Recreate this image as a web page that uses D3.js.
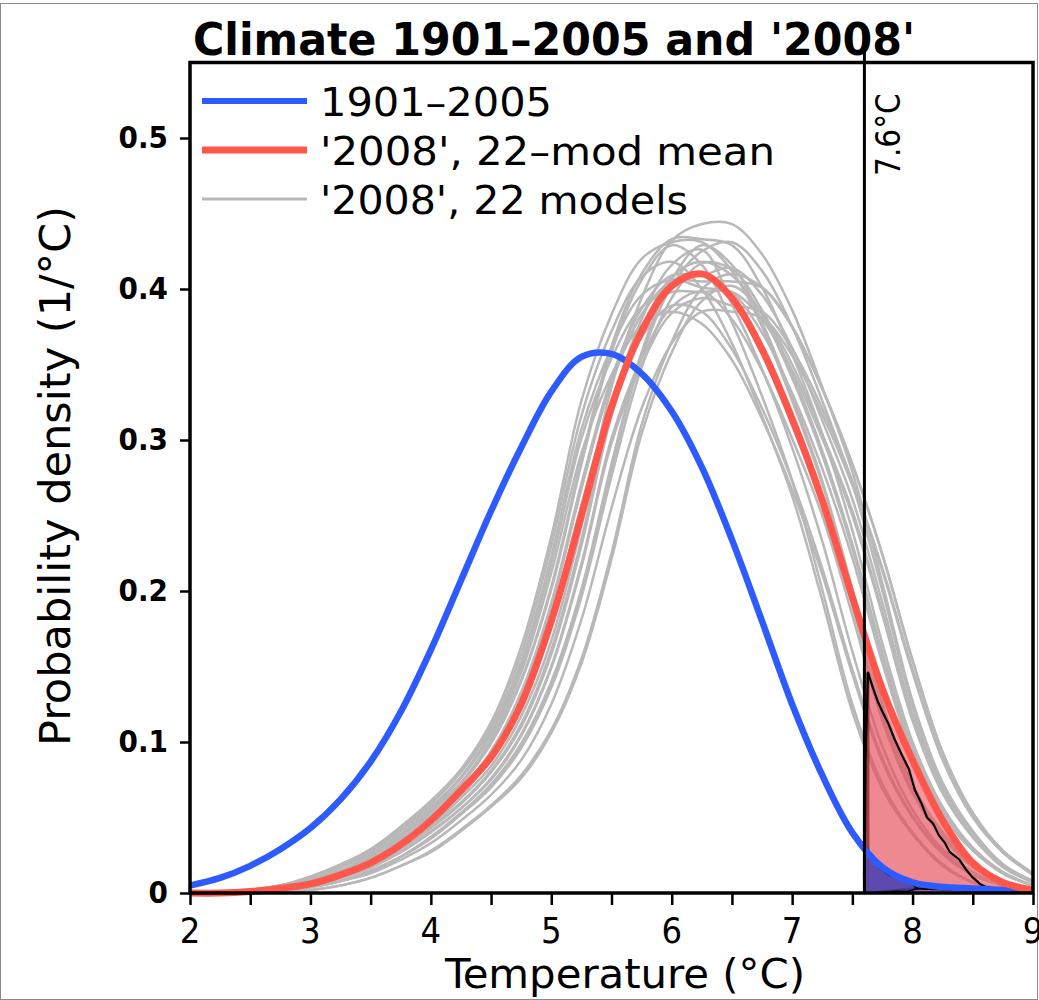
<!DOCTYPE html>
<html><head><meta charset="utf-8">
<script src="https://cdn.jsdelivr.net/npm/d3@7"></script>
<style>
body{margin:0;background:#fff}
svg{display:block}
text{font-family:'DejaVu Sans Condensed','DejaVu Sans',sans-serif;fill:#000}
</style>
</head><body>
<svg id="chart" width="1039" height="1000"></svg>
<script>
// ---------- DATA ----------
const temps = [2.0,2.25,2.5,2.75,3.0,3.25,3.5,3.75,4.0,4.25,4.5,4.75,5.0,5.25,5.5,5.75,6.0,6.25,6.5,6.75,7.0,7.25,7.5,7.75,8.0,8.25,8.5,8.75,9.0];
const obs19012005 = [0.005,0.010,0.018,0.029,0.043,0.062,0.087,0.120,0.161,0.207,0.253,0.295,0.332,0.355,0.357,0.344,0.319,0.282,0.234,0.180,0.125,0.078,0.040,0.017,0.007,0.004,0.003,0.002,0.002];
const mean2008 = [0.000,0.000,0.001,0.003,0.006,0.012,0.020,0.032,0.048,0.068,0.090,0.125,0.180,0.250,0.322,0.372,0.402,0.410,0.394,0.360,0.314,0.260,0.196,0.135,0.088,0.048,0.020,0.007,0.002];

const modelTemps = [2.5,2.75,3.0,3.25,3.5,3.75,4.0,4.25,4.5,4.75,5.0,5.25,5.5,5.75,6.0,6.25,6.5,6.75,7.0,7.25,7.5,7.75,8.0,8.25,8.5,8.75,9.0];
const model01 = [.002,.005,.010,.018,.029,.043,.059,.080,.110,.158,.230,.316,.372,.408,.418,.400,.364,.316,.263,.194,.120,.069,.039,.018,.007,.003,.001];
const model02 = [.002,.005,.011,.019,.029,.044,.061,.082,.113,.163,.236,.326,.383,.420,.431,.431,.412,.375,.326,.271,.200,.124,.071,.040,.019,.007,.003];
const model03 = [.002,.004,.009,.015,.025,.037,.054,.073,.100,.141,.203,.287,.362,.410,.433,.433,.429,.401,.357,.304,.240,.165,.100,.057,.030,.014,.005];
const model04 = [.001,.002,.005,.011,.019,.030,.045,.063,.084,.117,.167,.243,.335,.394,.432,.443,.443,.423,.386,.335,.279,.205,.127,.073,.041,.019,.008];
const model05 = [.001,.002,.004,.008,.015,.024,.037,.053,.071,.098,.139,.200,.281,.355,.402,.425,.431,.412,.375,.326,.271,.200,.124,.071,.040,.019,.007];
const model06 = [.002,.004,.008,.013,.022,.034,.048,.065,.089,.127,.182,.257,.324,.368,.389,.385,.360,.321,.273,.215,.148,.089,.051,.027,.012,.005,.002];
const model07 = [.001,.002,.005,.010,.017,.027,.041,.056,.076,.105,.150,.218,.301,.354,.388,.398,.380,.346,.301,.250,.184,.114,.066,.037,.017,.007,.003];
const model08 = [.001,.002,.004,.008,.013,.022,.033,.048,.065,.088,.125,.181,.255,.321,.364,.385,.385,.381,.356,.317,.270,.213,.146,.088,.050,.027,.012];
const model09 = [.002,.005,.009,.017,.026,.039,.055,.073,.102,.146,.212,.291,.343,.376,.385,.377,.353,.314,.267,.211,.145,.087,.050,.026,.012,.005,.002];
const model10 = [.001,.002,.005,.010,.018,.029,.043,.059,.080,.110,.158,.230,.316,.372,.408,.418,.409,.383,.341,.290,.228,.157,.095,.054,.029,.013,.005];
const model11 = [.002,.004,.008,.014,.023,.035,.050,.068,.093,.132,.190,.268,.338,.383,.405,.410,.392,.357,.310,.258,.190,.118,.068,.038,.018,.007,.003];
const model12 = [.001,.002,.004,.008,.014,.024,.036,.052,.070,.096,.136,.196,.276,.348,.394,.417,.413,.386,.344,.293,.231,.159,.096,.055,.029,.013,.005];
const model13 = [.000,.001,.002,.005,.010,.018,.027,.041,.057,.076,.106,.152,.221,.304,.358,.392,.402,.384,.350,.304,.253,.186,.116,.067,.037,.018,.007];
const model14 = [.002,.004,.008,.014,.023,.035,.051,.069,.094,.133,.192,.271,.341,.387,.409,.409,.414,.396,.361,.313,.261,.192,.119,.069,.038,.018,.007];
const model15 = [.002,.005,.010,.018,.028,.042,.057,.077,.107,.153,.223,.307,.361,.396,.406,.401,.397,.371,.331,.281,.222,.152,.092,.052,.028,.013,.005];
const model16 = [.001,.002,.005,.010,.017,.027,.040,.056,.075,.104,.149,.216,.298,.350,.384,.394,.389,.385,.360,.321,.273,.215,.148,.089,.051,.027,.012];
const model17 = [.002,.004,.008,.014,.023,.035,.050,.068,.093,.132,.190,.268,.338,.383,.405,.405,.405,.401,.375,.334,.284,.224,.154,.093,.053,.028,.013];
const model18 = [.002,.005,.010,.017,.027,.041,.056,.076,.105,.150,.218,.301,.354,.388,.398,.398,.398,.380,.346,.301,.250,.184,.114,.066,.037,.017,.007];
const model19 = [.001,.002,.005,.010,.019,.029,.044,.060,.081,.112,.161,.234,.322,.380,.416,.426,.390,.347,.295,.233,.160,.097,.055,.029,.014,.005,.002];
const model20 = [.000,.001,.002,.005,.010,.018,.028,.042,.058,.078,.108,.155,.225,.310,.365,.400,.410,.401,.375,.334,.284,.224,.154,.093,.053,.028,.013];
const model21 = [.001,.002,.004,.008,.015,.024,.037,.053,.072,.099,.140,.201,.284,.358,.406,.429,.416,.378,.329,.273,.201,.125,.072,.040,.019,.007,.003];
const model22 = [.002,.004,.008,.015,.024,.037,.053,.072,.099,.140,.201,.284,.358,.406,.429,.416,.378,.329,.273,.201,.125,.072,.040,.019,.007,.003,.001];
const models = [model01,model02,model03,model04,model05,model06,model07,model08,model09,model10,model11,model12,model13,model14,model15,model16,model17,model18,model19,model20,model21,model22];

// tail-probability shapes beyond the threshold
const threshold = 7.6;
const redTailT = [7.6,7.61,7.63,7.67,7.71,7.75,7.80,7.85,7.92,7.97,8.02,8.07,8.12,8.17,8.22,8.27,8.31,8.36,8.39,8.44,8.49,8.56,8.63,8.70,8.77,8.4,8.0,7.6];
const redTailV = [0.0,0.09,0.146,0.136,0.127,0.120,0.112,0.102,0.090,0.082,0.068,0.060,0.050,0.046,0.038,0.033,0.027,0.024,0.022,0.016,0.011,0.006,0.003,0.001,0.0,0.002,0.003,0.0];
const blueTailT = [7.6,7.595,7.60,7.62,7.66,7.72,7.80,7.88,7.95,8.01,8.04,7.96,7.85,7.7,7.62];
const blueTailV = [0.0,0.012,0.027,0.030,0.024,0.017,0.012,0.010,0.008,0.005,0.003,0.001,0.001,0.0,0.0];

const xTicks = [2,2.5,3,3.5,4,4.5,5,5.5,6,6.5,7,7.5,8,8.5,9];
const xLabels = [2,3,4,5,6,7,8,9];
const yTicks = [0,0.1,0.2,0.3,0.4,0.5];
const legendLabels = ["1901\u20132005","'2008', 22\u2013mod mean","'2008', 22 models"];
const titleText = "Climate 1901\u20132005 and '2008'";

// ---------- DRAW ----------
const svg = d3.select("#chart");
const x = d3.scaleLinear().domain([2,9]).range([190,1033]);
const y = d3.scaleLinear().domain([0,0.55]).range([893,62.5]);

svg.append("rect").attr("x",0.5).attr("y",3.5).attr("width",1037).attr("height",996)
  .attr("fill","none").attr("stroke","#8a8a8a").attr("stroke-width",1);

const defs = svg.append("defs");
defs.append("clipPath").attr("id","plot").append("rect")
  .attr("x",x(2)).attr("y",y(0.55)).attr("width",x(9)-x(2)).attr("height",y(0)-y(0.55)+4);
defs.append("clipPath").attr("id","tail").append("rect")
  .attr("x",x(threshold)).attr("y",y(0.55)).attr("width",x(9)-x(threshold)).attr("height",y(0)-y(0.55));

const g = svg.append("g").attr("clip-path","url(#plot)");

const smooth = d3.curveCatmullRom.alpha(0.5);
const lineOf = (ts) => d3.line().x((d,i)=>x(ts[i])).y(d=>y(Math.max(0,d))).curve(smooth);
const areaOf = (ts) => d3.area().x((d,i)=>x(ts[i])).y0(y(0)).y1(d=>y(d)).curve(smooth);

// model curves
g.append("g").selectAll("path").data(models).join("path")
  .attr("d", d => lineOf(modelTemps)(d))
  .attr("fill","none").attr("stroke","#b8b8b8").attr("stroke-width",2.5);

// tail fills
const tg = g.append("g").attr("clip-path","url(#tail)");
tg.append("path").attr("d", areaOf(temps)(mean2008)).attr("fill","#f0505c").attr("fill-opacity",0.6);
tg.append("path").attr("d", areaOf(temps)(obs19012005)).attr("fill","#3a2cc8").attr("fill-opacity",0.5);

// dark rug strip along threshold
g.append("line").attr("x1",x(threshold)+3).attr("x2",x(threshold)+3).attr("y1",y(0)).attr("y2",y(0.146))
  .attr("stroke","#7a1515").attr("stroke-width",4).attr("stroke-opacity",0.7);

const poly = (ts,vs) => d3.line().x((d,i)=>x(ts[i])).y(d=>y(d))(vs) + "Z";
g.append("path").attr("d", poly(redTailT, redTailV))
  .attr("fill","#c03040").attr("fill-opacity",0.12).attr("stroke","#000").attr("stroke-width",2.2).attr("stroke-linejoin","round");
g.append("path").attr("d", poly(blueTailT, blueTailV))
  .attr("fill","#5448b0").attr("fill-opacity",0.85).attr("stroke","#000").attr("stroke-width",1.8).attr("stroke-linejoin","round");

// main curves
g.append("path").attr("d", lineOf(temps)(obs19012005)).attr("fill","none").attr("stroke","#2d5bff").attr("stroke-width",6.5);
g.append("path").attr("d", lineOf(temps)(mean2008)).attr("fill","none").attr("stroke","#ff564c").attr("stroke-width",7);

// threshold line
svg.append("line").attr("x1",x(threshold)).attr("x2",x(threshold)).attr("y1",44).attr("y2",y(0))
  .attr("stroke","#000").attr("stroke-width",3);
svg.append("text").attr("transform",`translate(${x(threshold)+36},176) rotate(-90)`)
  .attr("font-size",33).text("7.6\u00B0C");

// frame
svg.append("rect").attr("x",x(2)).attr("y",y(0.55)).attr("width",x(9)-x(2)).attr("height",y(0)-y(0.55))
  .attr("fill","none").attr("stroke","#000").attr("stroke-width",3.5);

// axes
const xAxis = d3.axisBottom(x).tickValues(xTicks).tickSize(12).tickFormat("");
const xg = svg.append("g").attr("transform",`translate(0,${y(0)})`).call(xAxis);
xg.select(".domain").remove();
xg.selectAll(".tick text").remove();
xg.selectAll(".tick line").attr("stroke","#000").attr("stroke-width",2.5);
svg.append("g").selectAll("text").data(xLabels).join("text")
  .attr("x", d => x(d)).attr("y", 943).attr("text-anchor","middle")
  .attr("font-size",36).text(d => String(d));

const yAxis = d3.axisLeft(y).tickValues(yTicks).tickSize(10).tickPadding(12)
  .tickFormat(d => d === 0 ? "0" : d.toFixed(1));
const yg = svg.append("g").attr("transform",`translate(${x(2)},0)`).call(yAxis);
yg.select(".domain").remove();
yg.selectAll(".tick line").attr("stroke","#000").attr("stroke-width",2.5);
yg.selectAll(".tick text").attr("font-size",31).attr("font-weight","bold")
  .attr("font-family","'DejaVu Sans Condensed','DejaVu Sans',sans-serif").attr("fill","#000");

// axis titles
svg.append("text").attr("x",625).attr("y",988).attr("text-anchor","middle")
  .attr("font-size",40).attr("textLength",360).attr("lengthAdjust","spacingAndGlyphs").text("Temperature (\u00B0C)");
svg.append("text").attr("transform","translate(70,476) rotate(-90)").attr("text-anchor","middle")
  .attr("font-size",42).attr("textLength",540).attr("lengthAdjust","spacingAndGlyphs").text("Probability density (1/\u00B0C)");

// title
svg.append("text").attr("x",193).attr("y",55).attr("font-size",44).attr("font-weight","bold")
  .attr("textLength",722).attr("lengthAdjust","spacingAndGlyphs").text(titleText);

// legend
const legColors = ["#2d5bff","#ff564c","#b8b8b8"];
const legWidths = [6,7,3];
const legY = [101,150,199];
const legTextLen = [232,455,368];
legendLabels.forEach((lab,i)=>{
  svg.append("line").attr("x1",202).attr("x2",307).attr("y1",legY[i]).attr("y2",legY[i])
    .attr("stroke",legColors[i]).attr("stroke-width",legWidths[i]);
  svg.append("text").attr("x",320).attr("y",legY[i]+15).attr("font-size",39)
    .attr("textLength",legTextLen[i]).attr("lengthAdjust","spacingAndGlyphs").text(lab);
});
</script>
</body></html>
